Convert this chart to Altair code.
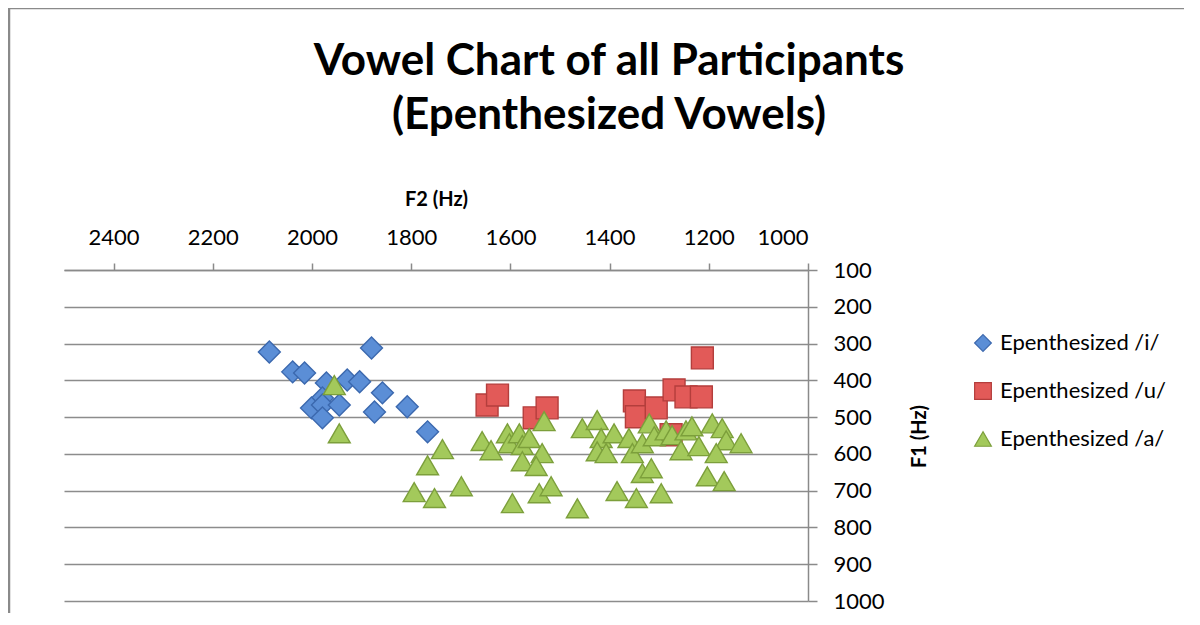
import altair as alt
import pandas as pd

title_lines = ["Vowel Chart of all Participants", "(Epenthesized Vowels)"]
series_names = ["Epenthesized /i/", "Epenthesized /u/", "Epenthesized /a/"]

i_f2 = [2086, 1880, 2039, 2015, 1971, 1929, 1904, 1858, 1979, 2001, 1979, 1945, 1979, 1874, 1808, 1767]
i_f1 = [323, 312, 377, 380, 407, 399, 404, 434, 448, 475, 467, 467, 502, 486, 472, 540]

u_f2 = [1647, 1626, 1552, 1526, 1350, 1346, 1306, 1270, 1246, 1215, 1213, 1276]
u_f1 = [467, 440, 502, 475, 456, 499, 475, 426, 445, 445, 339, 548]

a_f2 = [1955, 1945, 1737, 1767, 1794, 1753, 1699, 1657, 1639, 1606, 1602, 1582, 1576, 1562,
        1532, 1536, 1576, 1548, 1542, 1518, 1596, 1465, 1455, 1425, 1417, 1425, 1391, 1407,
        1361, 1354, 1334, 1320, 1310, 1286, 1274, 1256, 1246, 1234, 1220, 1193, 1173, 1165,
        1185, 1135, 1203, 1169, 1334, 1316, 1385, 1346, 1296]
a_f1 = [413, 544, 587, 631, 704, 720, 688, 565, 590, 544, 571, 544, 576, 557,
        511, 598, 620, 633, 707, 688, 734, 748, 530, 508, 557, 593, 544, 598,
        557, 598, 571, 517, 552, 536, 549, 590, 536, 525, 579, 517, 530, 563,
        598, 571, 661, 674, 652, 639, 701, 720, 707]

x_ticks = [1000, 1200, 1400, 1600, 1800, 2000, 2200, 2400]
y_ticks = [100, 200, 300, 400, 500, 600, 700, 800, 900, 1000]

rows = []
for name, xs, ys in [(series_names[0], i_f2, i_f1), (series_names[1], u_f2, u_f1), (series_names[2], a_f2, a_f1)]:
    for a, b in zip(xs, ys):
        rows.append({"series": name, "F2": a, "F1": b})
df = pd.DataFrame(rows)

FONT = "Lato"
fills = ["#5B8ED6", "#E25A58", "#A3C95B"]
strokes = ["#3B68AE", "#B43E3C", "#7C9F3B"]
shapes = ["diamond", "square", "triangle-up"]

points = alt.Chart(df).mark_point(filled=True, size=480, strokeWidth=1.4, opacity=1).encode(
    x=alt.X("F2:Q", scale=alt.Scale(domain=[1000, 2500], reverse=True, nice=False, zero=False),
            axis=alt.Axis(orient="top", values=x_ticks, format="d", title="F2 (Hz)", grid=False,
                          tickSize=7, labelPadding=14, titleX=372, titleY=-71,
                          titleBaseline="middle", titleAlign="center")),
    y=alt.Y("F1:Q", scale=alt.Scale(domain=[100, 1000], reverse=True, nice=False, zero=False),
            axis=alt.Axis(orient="right", values=y_ticks, format="d", title="F1 (Hz)", grid=True,
                          tickSize=9, labelPadding=16, titleAngle=270, titleX=111, titleY=166,
                          titleBaseline="middle", titleAlign="center")),
    fill=alt.Fill("series:N", scale=alt.Scale(domain=series_names, range=fills), title=None),
    stroke=alt.Stroke("series:N", scale=alt.Scale(domain=series_names, range=strokes), title=None),
    shape=alt.Shape("series:N", scale=alt.Scale(domain=series_names, range=shapes), title=None),
)

one = pd.DataFrame({"k": [0]})
left_border = alt.Chart(one).mark_rule(color="#8a8a8a", strokeWidth=2.5).encode(
    x=alt.value(-55), y=alt.value(-262), y2=alt.value(400))
top_border = alt.Chart(one).mark_rule(color="#8a8a8a", strokeWidth=2.5).encode(
    x=alt.value(-55), x2=alt.value(1200), y=alt.value(-262))

title1 = alt.Chart(pd.DataFrame({"t": [title_lines[0]]})).mark_text(
    font=FONT, fontSize=44, fontWeight="bold", color="#000000", align="center", baseline="alphabetic"
).encode(text="t:N", x=alt.value(545), y=alt.value(-195))
title2 = alt.Chart(pd.DataFrame({"t": [title_lines[1]]})).mark_text(
    font=FONT, fontSize=44, fontWeight="bold", color="#000000", align="center", baseline="alphabetic"
).encode(text="t:N", x=alt.value(545), y=alt.value(-141))

chart = alt.layer(left_border, top_border, title1, title2, points).properties(
    width=744, height=331,
    padding={"left": 56, "top": 262, "right": 376, "bottom": 12},
    autosize=alt.AutoSizeParams(type="none"),
).configure_view(stroke=None).configure_axis(
    labelFont=FONT, labelFontSize=22, labelColor="#000000",
    titleFont=FONT, titleFontSize=20, titleFontWeight="bold", titleColor="#000000",
    domainColor="#8a8a8a", domainWidth=1.5, tickColor="#8a8a8a", tickWidth=1.5,
    gridColor="#8c8c8c", gridWidth=1.5,
).configure_legend(
    orient="none", legendX=908, legendY=62, labelFont=FONT, labelFontSize=22,
    labelColor="#000000", symbolSize=280, rowPadding=26, labelOffset=6,
    symbolStrokeWidth=1.2, labelLimit=0,
)

chart.save("out.html", embed_options={"renderer": "svg", "actions": False})
